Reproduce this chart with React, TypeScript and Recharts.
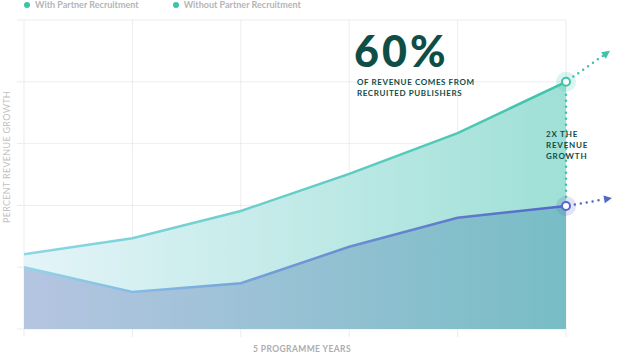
import React from 'react'
import { ComposedChart, Area, XAxis, YAxis, CartesianGrid, ReferenceLine } from 'recharts'

const years = [0, 1, 2, 3, 4, 5]
const withPartner = [1.21, 1.47, 1.91, 2.51, 3.17, 4.0]
const withoutPartner = [1.0, 0.6, 0.74, 1.33, 1.8, 1.99]
const yTicks = [0, 1, 2, 3, 4, 5]

const data = years.map((year, i) => ({
  year,
  withPartner: withPartner[i],
  withoutPartner: withoutPartner[i],
}))

const TEAL = '#3cc4aa'
const BLUE = '#5468c8'
const DARK = '#0f4d47'

// end point: halo + hollow dot + dotted arrow heading off the chart
function endDot(color: string, dx: number, dy: number) {
  return (props: any) => {
    const { cx, cy, index } = props
    if (index !== years.length - 1) return <g key={`d${index}`} />
    const len = Math.sqrt(dx * dx + dy * dy)
    const ux = dx / len
    const uy = dy / len
    const tipX = cx + dx
    const tipY = cy + dy
    const baseX = tipX - ux * 8
    const baseY = tipY - uy * 8
    const px = -uy * 4
    const py = ux * 4
    return (
      <g key={`d${index}`}>
        <line x1={cx + ux * 9} y1={cy + uy * 9} x2={baseX} y2={baseY} stroke={color} strokeWidth={2.5} strokeLinecap="round" strokeDasharray="0 6" />
        <polygon points={`${tipX},${tipY} ${baseX + px},${baseY + py} ${baseX - px},${baseY - py}`} fill={color} />
        <circle cx={cx} cy={cy} r={10} fill={color} fillOpacity={0.18} />
        <circle cx={cx} cy={cy} r={4} fill="#fff" stroke={color} strokeWidth={2} />
      </g>
    )
  }
}

export default function App() {
  const labelStyle: React.CSSProperties = {
    position: 'absolute',
    fontFamily: 'Lato, sans-serif',
    fontWeight: 700,
    color: DARK,
    whiteSpace: 'nowrap',
  }
  return (
    <div style={{ position: 'absolute', left: 0, top: 0, width: 623, height: 354, background: '#fff', overflow: 'hidden' }}>
      <ComposedChart width={623} height={354} data={data} margin={{ top: 20, right: 57, bottom: 0, left: 0 }}>
        <defs>
          <linearGradient id="fillTop" x1="0" y1="0" x2="1" y2="0">
            <stop offset="0%" stopColor="#e4f4f9" />
            <stop offset="100%" stopColor="#9fe0d6" />
          </linearGradient>
          <linearGradient id="fillBottom" x1="0" y1="0" x2="1" y2="0">
            <stop offset="0%" stopColor="#b5c5e1" />
            <stop offset="100%" stopColor="#78bdc6" />
          </linearGradient>
          <linearGradient id="strokeTop" x1="0" y1="0" x2="1" y2="0">
            <stop offset="0%" stopColor="#8dd6e6" />
            <stop offset="100%" stopColor={TEAL} />
          </linearGradient>
          <linearGradient id="strokeBottom" x1="0" y1="0" x2="1" y2="0">
            <stop offset="0%" stopColor="#92d5ea" />
            <stop offset="50%" stopColor="#6f97d6" />
            <stop offset="100%" stopColor={BLUE} />
          </linearGradient>
        </defs>
        <XAxis
          dataKey="year"
          type="number"
          domain={[0, 5]}
          ticks={years}
          height={25}
          tickSize={8}
          axisLine={false}
          tickLine={{ stroke: '#ebebeb' }}
          tickFormatter={() => ''}
        />
        <YAxis
          type="number"
          domain={[0, 5]}
          ticks={yTicks}
          width={24}
          tickSize={7}
          axisLine={false}
          tickLine={{ stroke: '#ebebeb' }}
          tickFormatter={() => ''}
        />
        <Area
          type="linear"
          dataKey="withPartner"
          stroke="url(#strokeTop)"
          strokeWidth={2.5}
          fill="url(#fillTop)"
          fillOpacity={1}
          dot={endDot(TEAL, 44, -31)}
          activeDot={false}
          isAnimationActive={false}
        />
        <Area
          type="linear"
          dataKey="withoutPartner"
          stroke="url(#strokeBottom)"
          strokeWidth={2.5}
          fill="url(#fillBottom)"
          fillOpacity={1}
          dot={endDot(BLUE, 46, -8)}
          activeDot={false}
          isAnimationActive={false}
        />
        <CartesianGrid stroke="#000" strokeOpacity={0.07} />
        <ReferenceLine
          segment={[
            { x: years[5], y: withoutPartner[5] + 0.15 },
            { x: years[5], y: withPartner[5] - 0.15 },
          ]}
          stroke={TEAL}
          strokeWidth={2.5}
          strokeLinecap="round"
          strokeDasharray="0 6"
        />
      </ComposedChart>

      {/* legend */}
      <div style={{ position: 'absolute', left: 24, top: 0, display: 'flex', alignItems: 'center', fontFamily: 'Lato, sans-serif', fontWeight: 700, fontSize: 9, lineHeight: '10px', color: '#b5b5b5' }}>
        <span style={{ width: 6, height: 6, borderRadius: 3, background: TEAL, marginRight: 5 }} />
        <span>With Partner Recruitment</span>
        <span style={{ width: 6, height: 6, borderRadius: 3, background: TEAL, marginLeft: 34, marginRight: 5 }} />
        <span>Without Partner Recruitment</span>
      </div>

      {/* annotations */}
      <div style={{ ...labelStyle, left: 354, top: 27, fontSize: 43, fontWeight: 900, lineHeight: '48px', letterSpacing: 3 }}>60%</div>
      <div style={{ ...labelStyle, left: 357, top: 77, fontSize: 8, letterSpacing: 0.6, lineHeight: '10.5px' }}>
        OF REVENUE COMES FROM
        <br />
        RECRUITED PUBLISHERS
      </div>
      <div style={{ ...labelStyle, left: 546, top: 129, fontSize: 8, letterSpacing: 0.8, lineHeight: '11px' }}>
        2X THE
        <br />
        REVENUE
        <br />
        GROWTH
      </div>

      {/* axis titles */}
      <div
        style={{
          position: 'absolute',
          left: 6,
          top: 157,
          transform: 'translate(-50%, -50%) rotate(-90deg)',
          fontFamily: 'Lato, sans-serif',
          fontSize: 9,
          color: '#c2c2c2',
          whiteSpace: 'nowrap',
          letterSpacing: 0.3,
        }}
      >
        PERCENT REVENUE GROWTH
      </div>
      <div
        style={{
          position: 'absolute',
          left: 253,
          top: 344,
          fontFamily: 'Lato, sans-serif',
          fontWeight: 700,
          fontSize: 8.5,
          color: '#adadad',
          whiteSpace: 'nowrap',
          letterSpacing: 0.4,
        }}
      >
        5 PROGRAMME YEARS
      </div>
    </div>
  )
}
